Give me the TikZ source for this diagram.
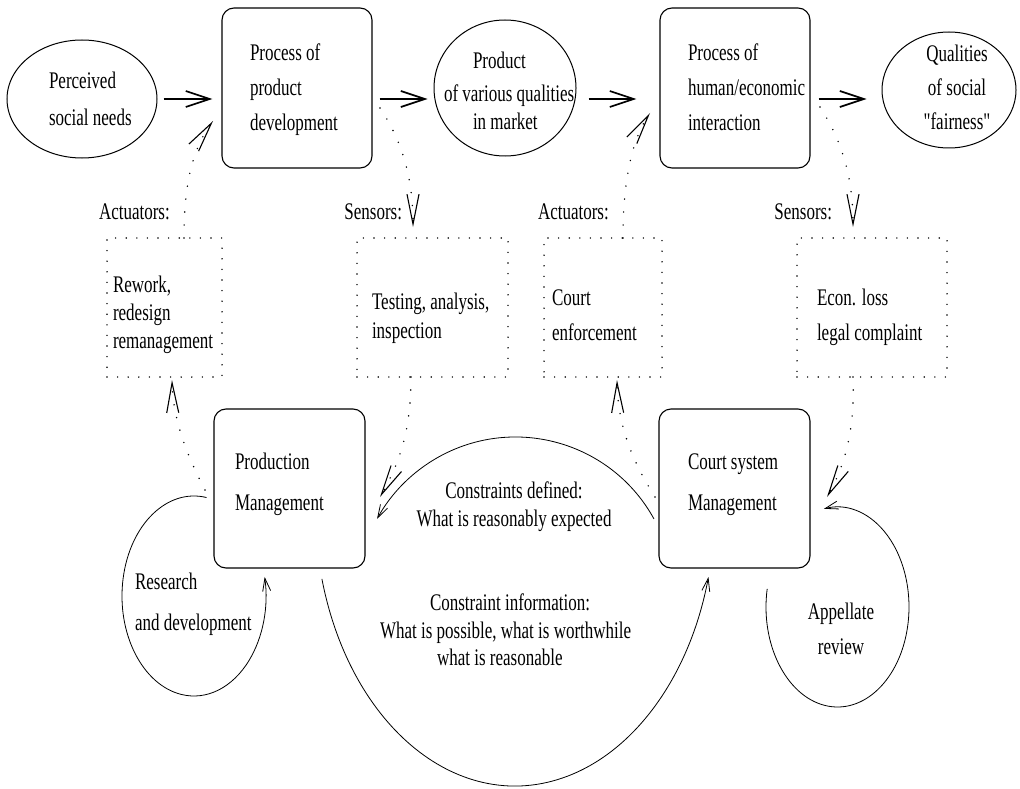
\documentclass[tikz,border=0pt]{standalone}
\usepackage{fontspec}
\setmainfont{Liberation Serif}
\usepackage{graphicx}
\usetikzlibrary{arrows.meta,shapes.geometric,calc}

% text set in tall, narrow lines: #1 = line distance before stretching, #2 = column alignment
\newcommand{\tall}[3]{\scalebox{1}[1.4]{\fontsize{17}{#1}\selectfont\begin{tabular}{@{}#2@{}}#3\end{tabular}}}
% straight double quote, without the TeX quote mapping
\newcommand{\sq}{{\addfontfeatures{Ligatures=TeXOff}\char34\relax}}

\tikzset{
  txt/.style={inner sep=0pt, outer sep=0pt},
  procbox/.style={draw, rounded corners=12pt, line width=1.1pt, inner sep=0pt,
                  minimum width=150pt, minimum height=160pt},
  sensebox/.style={draw, dash pattern=on 0pt off 10.6pt, line cap=round, line width=1.6pt,
                   inner sep=0pt, minimum height=139pt},
  oval/.style={draw, ellipse, line width=1pt, inner sep=0pt},
  flow/.style={line width=1.7pt, -{Straight Barb[length=24pt, width=16pt, line width=1.7pt]}},
  signal/.style={dash pattern=on 0pt off 13pt, line cap=round, line width=1.6pt,
                 -{Straight Barb[length=30pt, width=12pt, line width=1.1pt]}},
  info/.style={line width=0.8pt, -{Straight Barb[length=13pt, width=8pt, line width=0.8pt]}}
}

\begin{document}
\begin{tikzpicture}[x=1pt, y=1pt]
\useasboundingbox (0,0) rectangle (1020,-789);

% ---------- top row: processes and their inputs/outputs ----------
\node[oval, minimum width=150pt, minimum height=118pt] (needs) at (82,-99) {};
\node[procbox] (pd) at (297,-88) {};
\node[oval, minimum width=142pt, minimum height=136pt] (prod) at (505,-88) {};
\node[procbox] (hi) at (735,-88) {};
\node[oval, minimum width=134pt, minimum height=116pt] (fair) at (949,-90) {};

\node[txt, anchor=west] (t-needs) at (49,-100) {\tall{26.4}{l}{Perceived\\social needs}};
\node[txt, anchor=west] (t-pd) at (250,-88.7) {\tall{25}{l}{Process of\\product\\development}};
\node[txt, anchor=west] (t-prod1) at (473,-62) {\tall{25}{l}{Product}};
\node[txt, anchor=west] (t-prod2) at (444,-95) {\tall{25}{l}{of various qualities}};
\node[txt, anchor=west] (t-prod3) at (473,-123) {\tall{25}{l}{in market}};
\node[txt, anchor=west] (t-hi) at (688,-88.7) {\tall{25}{l}{Process of\\human/economic\\interaction}};
\node[txt] (t-fair) at (957,-89) {\tall{24.3}{c}{Qualities\\of social\\\sq fairness\sq}};

\coordinate (row) at (0,-99);
\draw[flow, shorten <=6pt, shorten >=9pt] (needs.east) -- (needs.east -| pd.west);
\draw[flow, shorten <=7pt, shorten >=6pt] (pd.east |- row) -- (prod.west |- row);
\draw[flow, shorten <=12pt, shorten >=23pt] (prod.east |- row) -- (hi.west |- row);
\draw[flow, shorten <=8pt, shorten >=15pt] (hi.east |- row) -- (fair.west |- row);

% ---------- middle row: actuators and sensors ----------
\node[sensebox, minimum width=115pt] (rw) at (164.5,-307.5) {};
\node[sensebox, minimum width=151pt] (ts) at (432.5,-307.5) {};
\node[sensebox, minimum width=118pt] (ce) at (603,-307.5) {};
\node[sensebox, minimum width=150pt] (el) at (872,-307.5) {};

\node[txt, anchor=west] (t-rw) at (113,-315) {\tall{20}{l}{Rework,\\redesign\\remanagement}};
\node[txt, anchor=west] (t-ts) at (372,-318) {\tall{21.4}{l}{Testing, analysis,\\inspection}};
\node[txt, anchor=west] (t-ce) at (552,-315.5) {\tall{25}{l}{Court\\enforcement}};
\node[txt, anchor=west] (t-el) at (817,-315.5) {\tall{25}{l}{Econ. loss\\legal complaint}};

\node[txt, anchor=west] (l-act1) at (99,-213) {\tall{25}{l}{Actuators:}};
\node[txt, anchor=east] (l-sen1) at (402,-213) {\tall{25}{l}{Sensors:}};
\node[txt, anchor=west] (l-act2) at (538,-213) {\tall{25}{l}{Actuators:}};
\node[txt, anchor=east] (l-sen2) at (832,-213) {\tall{25}{l}{Sensors:}};

% ---------- bottom row: management ----------
\node[procbox, minimum width=151pt, minimum height=159pt] (pm) at (289.5,-488.5) {};
\node[procbox, minimum width=151pt, minimum height=159pt] (cs) at (734.5,-488.5) {};

\node[txt, anchor=west] (t-pm) at (235,-482) {\tall{28.6}{l}{Production\\Management}};
\node[txt, anchor=west] (t-cs) at (688,-482) {\tall{28.6}{l}{Court system\\Management}};
\node[txt, anchor=west] (t-rd) at (135,-602) {\tall{28.6}{l}{Research\\and development}};
\node[txt] (t-ar) at (841,-629.5) {\tall{25}{c}{Appellate\\review}};
\node[txt] (t-cd) at (514,-507) {\tall{20}{c}{Constraints defined:\\What is reasonably expected}};
\node[txt, anchor=west] (t-ci1) at (430,-605) {\tall{20}{l}{Constraint information:}};
\node[txt, anchor=west] (t-ci2) at (380,-633) {\tall{20}{l}{What is possible, what is worthwhile}};
\node[txt, anchor=west] (t-ci3) at (437,-660) {\tall{20}{l}{what is reasonable}};

% ---------- dotted signal paths ----------
\coordinate (act1a) at (184,-238);  \coordinate (act1b) at (213,-121);
\coordinate (sen1a) at (380,-108);  \coordinate (sen1b) at (413,-227);
\coordinate (act2a) at (623,-238);  \coordinate (act2b) at (650,-113);
\coordinate (sen2a) at (820,-107);  \coordinate (sen2b) at (853,-227);
\coordinate (sen1c) at (411,-377);  \coordinate (sen1d) at (380,-497);
\coordinate (sen2c) at (853,-377);  \coordinate (sen2d) at (827,-497);
\coordinate (act1c) at (205,-490);  \coordinate (act1d) at (172,-380);
\coordinate (act2c) at (655,-497);  \coordinate (act2d) at (617,-380);

\draw[signal] (act1a) .. controls (184,-185) and (192,-150) .. (act1b);
\draw[signal] (sen1a) .. controls (398,-135) and (413,-170) .. (sen1b);
\draw[signal] (act2a) .. controls (623,-180) and (632,-140) .. (act2b);
\draw[signal] (sen2a) .. controls (838,-135) and (853,-170) .. (sen2b);
\draw[signal] (sen1c) .. controls (411,-430) and (400,-462) .. (sen1d);
\draw[signal] (sen2c) .. controls (855,-430) and (845,-465) .. (sen2d);
\draw[signal] (act1c) .. controls (192,-465) and (173,-425) .. (act1d);
\draw[signal] (act2c) .. controls (635,-465) and (618,-430) .. (act2d);

% ---------- feedback loops and constraint exchange ----------
\coordinate (rdC) at (194,-596);
\coordinate (arC) at (837.5,-607);
\coordinate (cdC) at (515.5,-595);
\coordinate (ciC) at (515,-506);

\draw[info] ($(rdC)+(80:72pt and 100pt)$)
  arc[start angle=80, end angle=371, x radius=72pt, y radius=100pt];
\draw[info] ($(arC)+(169.6:71.5pt and 100pt)$)
  arc[start angle=169.6, end angle=460.9, x radius=71.5pt, y radius=100pt];
\draw[info] ($(cdC)+(28.8:158pt)$)
  arc[start angle=28.8, end angle=151.2, radius=158pt];
\draw[info] ($(ciC)+(195.1:200pt and 280pt)$)
  arc[start angle=195.1, end angle=345.3, x radius=200pt, y radius=280pt];

\end{tikzpicture}
\end{document}
